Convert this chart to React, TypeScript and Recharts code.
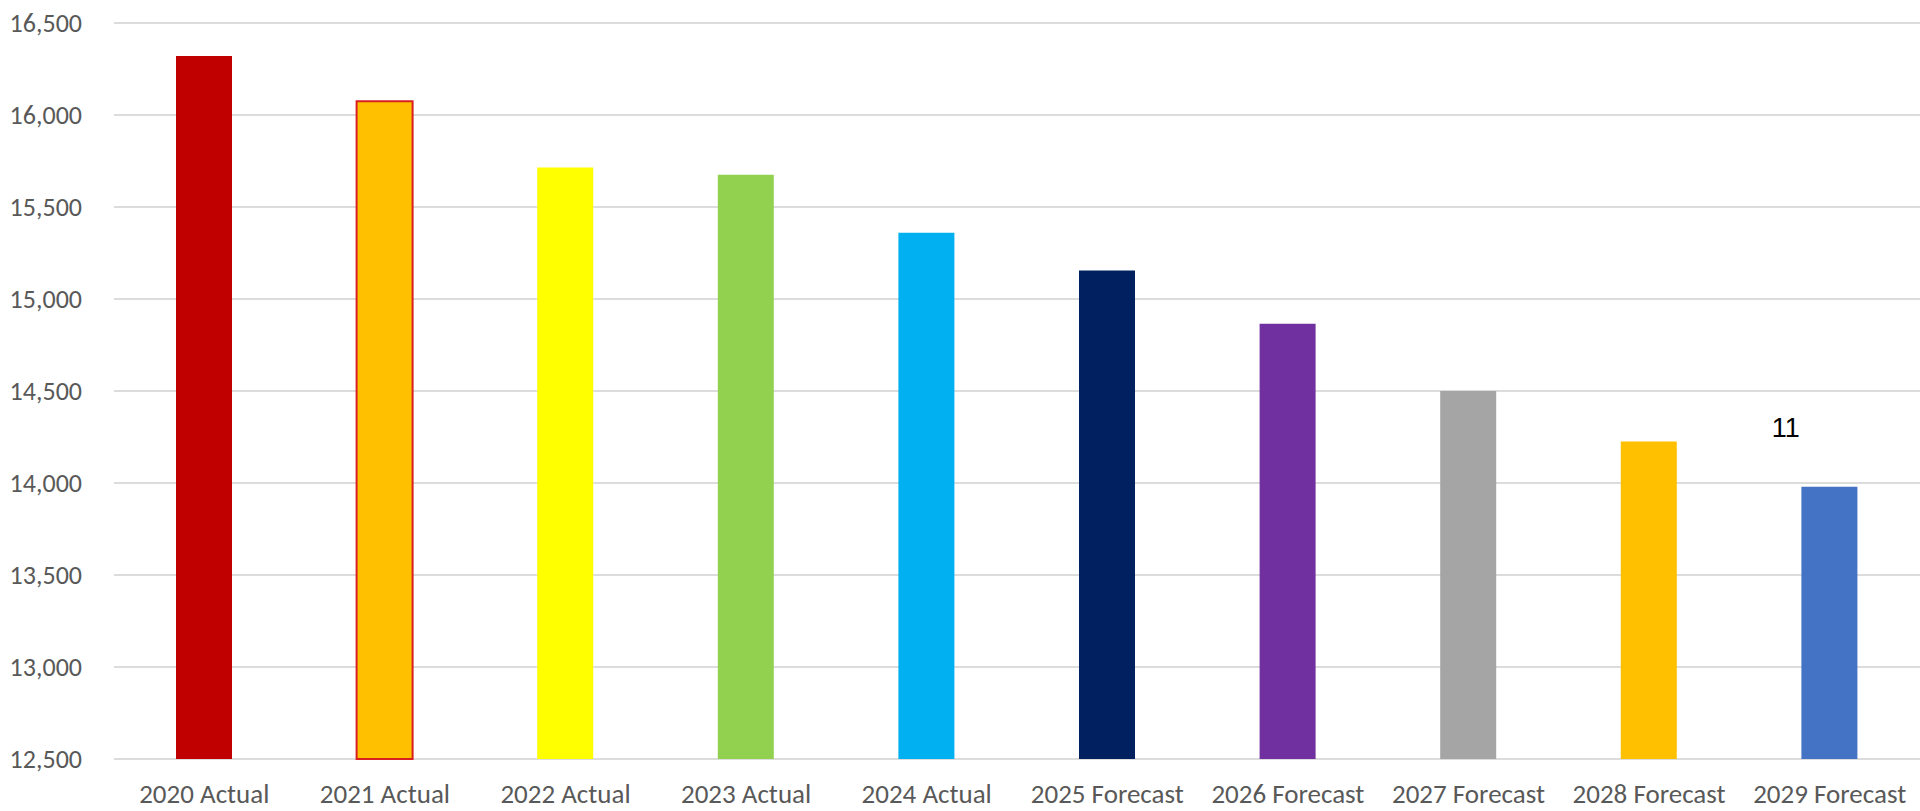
import React from 'react';
import { BarChart, Bar, Cell, XAxis, YAxis, CartesianGrid, ReferenceDot } from 'recharts';

const categories = [
  '2020 Actual',
  '2021 Actual',
  '2022 Actual',
  '2023 Actual',
  '2024 Actual',
  '2025 Forecast',
  '2026 Forecast',
  '2027 Forecast',
  '2028 Forecast',
  '2029 Forecast',
];
const values = [16320, 16075, 15715, 15675, 15360, 15155, 14865, 14500, 14225, 13980];
const barColors = [
  '#C00000', '#FFC000', '#FFFF00', '#92D050', '#00B0F0',
  '#002060', '#7030A0', '#A5A5A5', '#FFC000', '#4472C4',
];
const yTicks = [12500, 13000, 13500, 14000, 14500, 15000, 15500, 16000, 16500];
const noteText = '11';
const noteValue = 14300;

const data = categories.map((name, i) => ({ name, value: values[i] }));

// Calibri look-alike; falls back to Lato here
const FONT = "Carlito, Calibri, Lato, sans-serif";

const App: React.FC = () => {
  return (
    <div style={{ position: 'absolute', left: 0, top: 0, width: 1920, height: 811, background: '#fff' }}>
      <BarChart width={1920} height={811} data={data} margin={{ top: 23, right: 0, bottom: 0, left: 0 }}>
        <CartesianGrid vertical={false} stroke="#dcdcdc" strokeWidth={2} />
        <XAxis
          dataKey="name"
          height={52}
          axisLine={false}
          tickLine={false}
          tickMargin={19}
          tick={{ fill: '#595959', fontSize: 27, fontFamily: FONT }}
        />
        <YAxis
          width={114}
          domain={[12500, 16500]}
          ticks={yTicks}
          axisLine={false}
          tickLine={false}
          tickMargin={26}
          tickFormatter={(v: number) => v.toLocaleString('en-US')}
          tick={{ fill: '#595959', fontSize: 26, fontFamily: FONT }}
        />
        <Bar dataKey="value" barSize={56} isAnimationActive={false}>
          {data.map((d, i) => (
            <Cell
              key={`cell-${i}`}
              fill={barColors[i]}
              stroke={i === 1 ? '#D82020' : 'none'}
              strokeWidth={i === 1 ? 2 : 0}
            />
          ))}
        </Bar>
        <ReferenceDot
          x={categories[categories.length - 1]}
          y={noteValue}
          r={0}
          ifOverflow="visible"
          shape={(p: any) => (
            <text
              x={p.cx - 44}
              y={p.cy}
              textAnchor="middle"
              dominantBaseline="central"
              fontFamily="'Liberation Sans', Arial, sans-serif"
              fontSize={27}
              fill="#000"
            >
              {noteText}
            </text>
          )}
        />
      </BarChart>
    </div>
  );
};

export default App;
